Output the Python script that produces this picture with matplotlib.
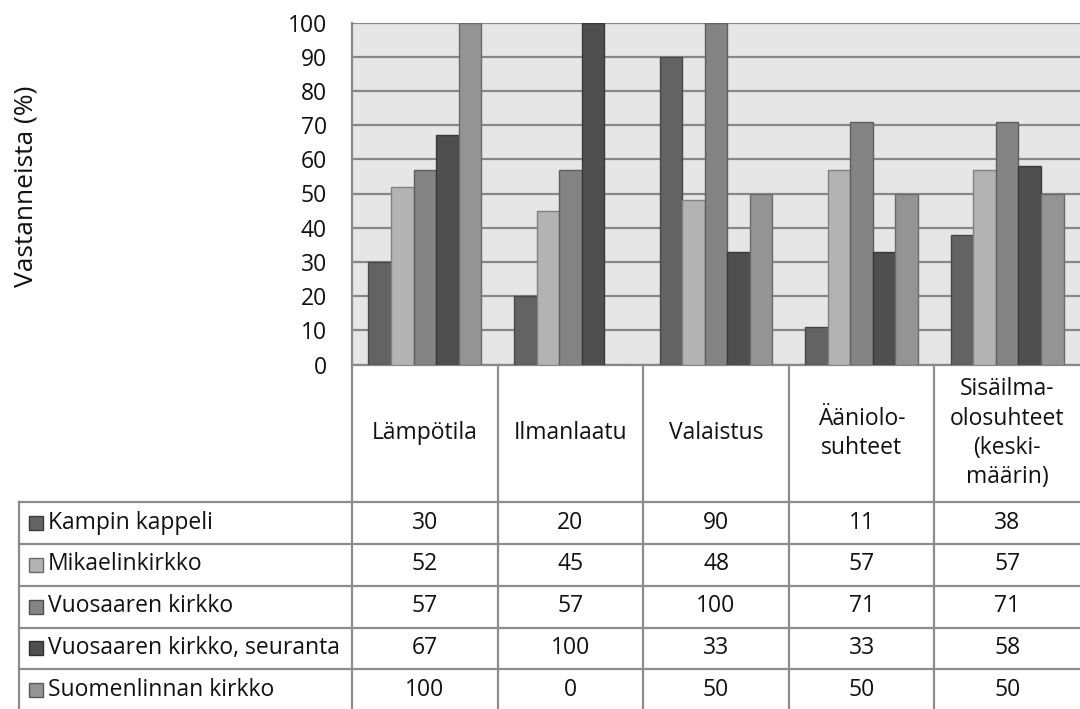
import numpy as np
import matplotlib
matplotlib.use("Agg")
import matplotlib.pyplot as plt
from matplotlib.lines import Line2D
from matplotlib.patches import Rectangle
import matplotlib.colors as mcolors

plt.rcParams['font.family'] = ['Open Sans', 'DejaVu Sans']

categories = ["Lämpötila", "Ilmanlaatu", "Valaistus", "Ääniolo-\nsuhteet",
              "Sisäilma-\nolosuhteet\n(keski-\nmäärin)"]
series_names = ["Kampin kappeli", "Mikaelinkirkko", "Vuosaaren kirkko",
                "Vuosaaren kirkko, seuranta", "Suomenlinnan kirkko"]
kampin = [30, 20, 90, 11, 38]
mikael = [52, 45, 48, 57, 57]
vuosaari = [57, 57, 100, 71, 71]
vuosaari_seur = [67, 100, 33, 33, 58]
suomenlinna = [100, 0, 50, 50, 50]
values = [kampin, mikael, vuosaari, vuosaari_seur, suomenlinna]
colors = ["#636363", "#b3b3b3", "#848484", "#4f4f4f", "#949494"]
yticks = list(range(0, 101, 10))
ylabel = "Vastanneista (%)"

FS = 16.5
W, H = 1080, 709
fig = plt.figure(figsize=(W / 100, H / 100), dpi=100)

def fx(x):
    return x / W

def fy(y):
    return 1 - y / H

left, right, top, bottom = 352, 1080, 22.5, 364.5
ax = fig.add_axes([fx(left), fy(bottom), fx(right) - fx(left), (bottom - top) / H])
ax.set_facecolor("#e6e6e6")
ax.set_xlim(0, len(categories))
ax.set_ylim(0, 100)

n = len(values)
w = 0.155
xs = np.arange(len(categories)) + 0.5
for j, (vals, c) in enumerate(zip(values, colors)):
    rgb = np.array(mcolors.to_rgb(c)) * 0.72
    ax.bar(xs + (j - (n - 1) / 2) * w, vals, width=w, color=c,
           edgecolor=rgb, linewidth=1.0, zorder=3, label=series_names[j])

ax.set_yticks(yticks)
ax.set_yticklabels([str(t) for t in yticks], fontsize=FS, color="#111111")
ax.tick_params(axis='y', length=0, pad=18)
ax.set_xticks([])
ax.yaxis.grid(True, color="#878787", linewidth=1.6, zorder=0)
ax.set_axisbelow(True)
for s in ["top", "right"]:
    ax.spines[s].set_visible(False)
ax.spines["left"].set_color("#888888")
ax.spines["left"].set_linewidth(1.6)
ax.spines["bottom"].set_color("#888888")
ax.spines["bottom"].set_linewidth(1.6)

fig.text(fx(26), fy(186), ylabel, rotation=90, ha="center", va="center",
         fontsize=19, color="#111111")

# data table
line_kw = dict(color="#8c8c8c", linewidth=1.6, transform=fig.transFigure)
col_w = (right - left) / len(categories)
col_edges = [left + i * col_w for i in range(len(categories) + 1)]
row_edges = [502, 543.5, 585.5, 627.5, 669, 711]
legend_left = 19

for i, x in enumerate(col_edges[:-1]):
    fig.add_artist(Line2D([fx(x), fx(x)], [fy(bottom), fy(H + 2)], **line_kw))
fig.add_artist(Line2D([fx(legend_left), fx(legend_left)], [fy(row_edges[0]), fy(H + 2)], **line_kw))
for y in row_edges[:-1]:
    fig.add_artist(Line2D([fx(legend_left), fx(right)], [fy(y), fy(y)], **line_kw))

for i, cat in enumerate(categories):
    cx = (col_edges[i] + col_edges[i + 1]) / 2
    fig.text(fx(cx), fy((bottom + row_edges[0]) / 2), cat, ha="center", va="center",
             fontsize=FS, color="#111111", multialignment="center", linespacing=1.3)

for j, name in enumerate(series_names):
    cy = (row_edges[j] + row_edges[j + 1]) / 2
    sq = 14
    rgb = np.array(mcolors.to_rgb(colors[j])) * 0.6
    fig.add_artist(Rectangle((fx(29), fy(cy + sq / 2)), sq / W, sq / H,
                             facecolor=colors[j], edgecolor=rgb, linewidth=1.0,
                             transform=fig.transFigure))
    fig.text(fx(48), fy(cy), name, ha="left", va="center", fontsize=FS, color="#111111")
    for i, v in enumerate(values[j]):
        cx = (col_edges[i] + col_edges[i + 1]) / 2
        fig.text(fx(cx), fy(cy), str(v), ha="center", va="center", fontsize=FS,
                 color="#111111")

fig.savefig("out.png", dpi=100)
